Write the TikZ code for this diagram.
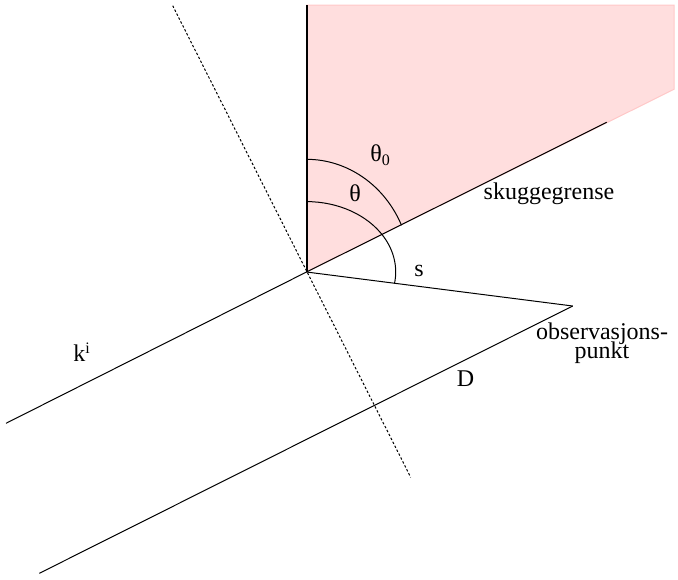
\documentclass[tikz,border=0pt]{standalone}
\usepackage{fontspec}
\setmainfont{Liberation Serif}
\usepackage{xcolor}
\usetikzlibrary{positioning}
\definecolor{shadowpink}{RGB}{255,222,222}
\definecolor{shadowedge}{RGB}{255,200,200}

\begin{document}
\begin{tikzpicture}[
  x=0.5pt, y=-0.5pt,
  line/.style={line width=0.5pt},
  wall/.style={line width=1pt},
  normal/.style={line width=0.5pt, dash pattern=on 1.2pt off 1pt},
  lbl/.style={inner sep=0pt, font={\fontsize{12}{9.8}\selectfont\lineskiplimit=-20pt}}
]
\useasboundingbox (0,0) rectangle (678,579);

% points
\coordinate (O)    at (306.5,272);
\coordinate (wtop) at (306.5,5);
\coordinate (P)    at (572.7,306);
\coordinate (sb)   at (606.7,122.3);
\coordinate (kin)  at (6,423.3);
\coordinate (dend) at (39.3,573.3);
\coordinate (ntop) at (172.7,5.7);
\coordinate (nbot) at (410.7,477.3);

% shadow region
\filldraw[fill=shadowpink, draw=shadowedge, line width=0.5pt]
  (O) -- (wtop) -- (674,5) -- (674,89.3) -- cycle;

% edge, rays and normal
\draw[wall] (O) -- (wtop);
\draw[line] (O) -- (sb);
\draw[line] (kin) -- (O);
\draw[line] (O) -- (P);
\draw[line] (P) -- (dend);
\draw[normal] (ntop) -- (nbot);

% angles
\draw[line] ([yshift=35.2pt]O)
  arc[start angle=90, end angle=-9.2, x radius=44.6pt, y radius=35.2pt];
\draw[line] ([yshift=56.35pt]O)
  arc[start angle=90, end angle=24.5, x radius=52.2pt, y radius=56.35pt];

% labels
\node[lbl, anchor=base west] (th0) at (370,161.5) {θ\textsubscript{0}};
\node[lbl, anchor=base] (th) at (355,201.5) {θ};
\node[lbl, anchor=base] (s) at (419,276.5) {s};
\node[lbl, anchor=base] (sg) at (549,199.3) {skuggegrense};
\node[lbl, anchor=north, align=center] (obs) at (602,322)
  {observasjons-\\punkt};
\node[lbl, anchor=base west] (k) at (73,361.7) {k\textsuperscript{i}};
\node[lbl, anchor=base] (D) at (465.5,386) {D};

\end{tikzpicture}
\end{document}
